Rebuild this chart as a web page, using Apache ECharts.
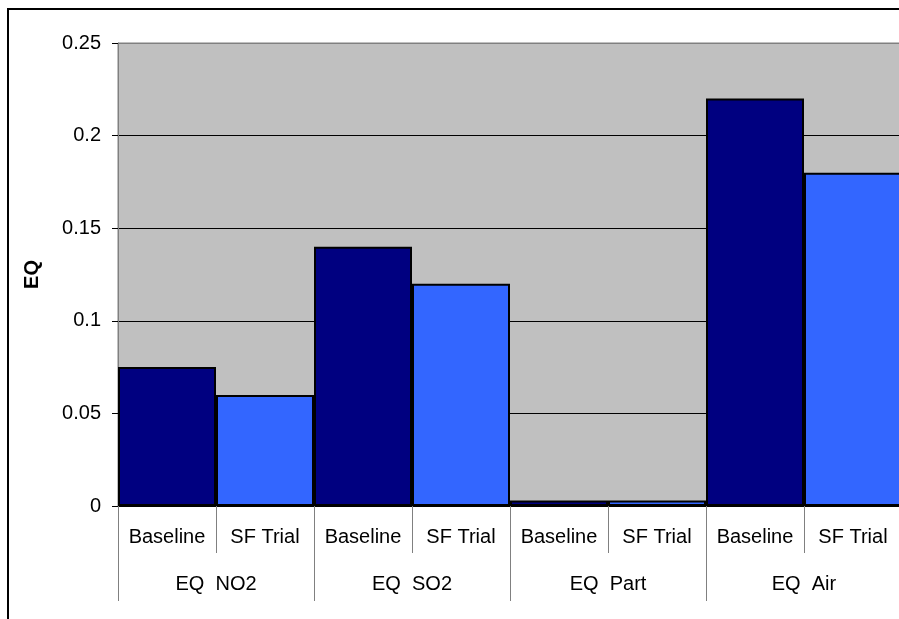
<!DOCTYPE html>
<html>
<head>
<meta charset="utf-8">
<script src="https://cdn.jsdelivr.net/npm/echarts@6/dist/echarts.min.js"></script>
<style>
  html, body { margin: 0; padding: 0; background: #fff; overflow: hidden; }
  #chart { width: 902px; height: 619px; }
</style>
</head>
<body>
<div id="chart"></div>
<script>
// Emission quotient groups, each with a baseline and an SF trial bar
const groups = ['EQ  NO2', 'EQ  SO2', 'EQ  Part', 'EQ  Air'];
const scenarios = ['Baseline', 'SF Trial'];
const baselineValues = [0.075, 0.14, 0.003, 0.22];
const trialValues = [0.06, 0.12, 0.003, 0.18];
const yTicks = [0, 0.05, 0.1, 0.15, 0.2, 0.25];

const scenarioColors = ['#000080', '#3366FF'];
const font = 'Arial, "Liberation Sans", sans-serif';

// Flatten to one bar per (group, scenario) so bars sit edge to edge
const subCategories = [];
const barData = [];
groups.forEach((g, i) => {
  [baselineValues[i], trialValues[i]].forEach((v, j) => {
    subCategories.push(scenarios[j]);
    barData.push({ value: v, itemStyle: { color: scenarioColors[j] } });
  });
});

const chart = echarts.init(document.getElementById('chart'));
chart.setOption({
  animation: false,
  backgroundColor: '#ffffff',
  graphic: [{
    type: 'rect',
    shape: { x: 8, y: 9, width: 960, height: 700 },
    style: { fill: 'none', stroke: '#000', lineWidth: 2 },
    silent: true
  }],
  grid: {
    left: 118, top: 43, right: 0, bottom: 113,
    show: true, backgroundColor: '#C0C0C0', borderColor: '#808080', borderWidth: 1
  },
  xAxis: [{
    type: 'category',
    data: subCategories,
    position: 'bottom',
    boundaryGap: true,
    axisLine: { show: true, lineStyle: { color: '#000', width: 1 } },
    axisTick: { show: true, interval: 0, length: 47, lineStyle: { color: '#808080' } },
    axisLabel: { interval: 0, margin: 21, color: '#000', fontSize: 20, fontFamily: font }
  }, {
    type: 'category',
    data: groups,
    position: 'bottom',
    boundaryGap: true,
    axisLine: { show: false },
    axisTick: { show: true, interval: 0, length: 95, lineStyle: { color: '#808080' } },
    axisLabel: { interval: 0, margin: 68, color: '#000', fontSize: 20, fontFamily: font }
  }],
  yAxis: {
    type: 'value',
    min: yTicks[0],
    max: yTicks[yTicks.length - 1],
    interval: 0.05,
    name: 'EQ',
    nameLocation: 'middle',
    nameGap: 76,
    nameRotate: 90,
    nameTextStyle: { color: '#000', fontSize: 20, fontWeight: 'bold', fontFamily: font },
    axisLine: { show: true, lineStyle: { color: '#808080', width: 1 } },
    axisTick: { show: true, length: 6, lineStyle: { color: '#000' } },
    axisLabel: { margin: 17, color: '#000', fontSize: 20, fontFamily: font },
    splitLine: { show: true, lineStyle: { color: ['#000', '#000', '#000', '#000', '#000', '#808080'], width: 1 } }
  },
  series: [{
    type: 'bar',
    xAxisIndex: 0,
    barWidth: '100%',
    barCategoryGap: 0,
    data: barData,
    itemStyle: { borderColor: '#000', borderWidth: 2 }
  }]
});
</script>
</body>
</html>
